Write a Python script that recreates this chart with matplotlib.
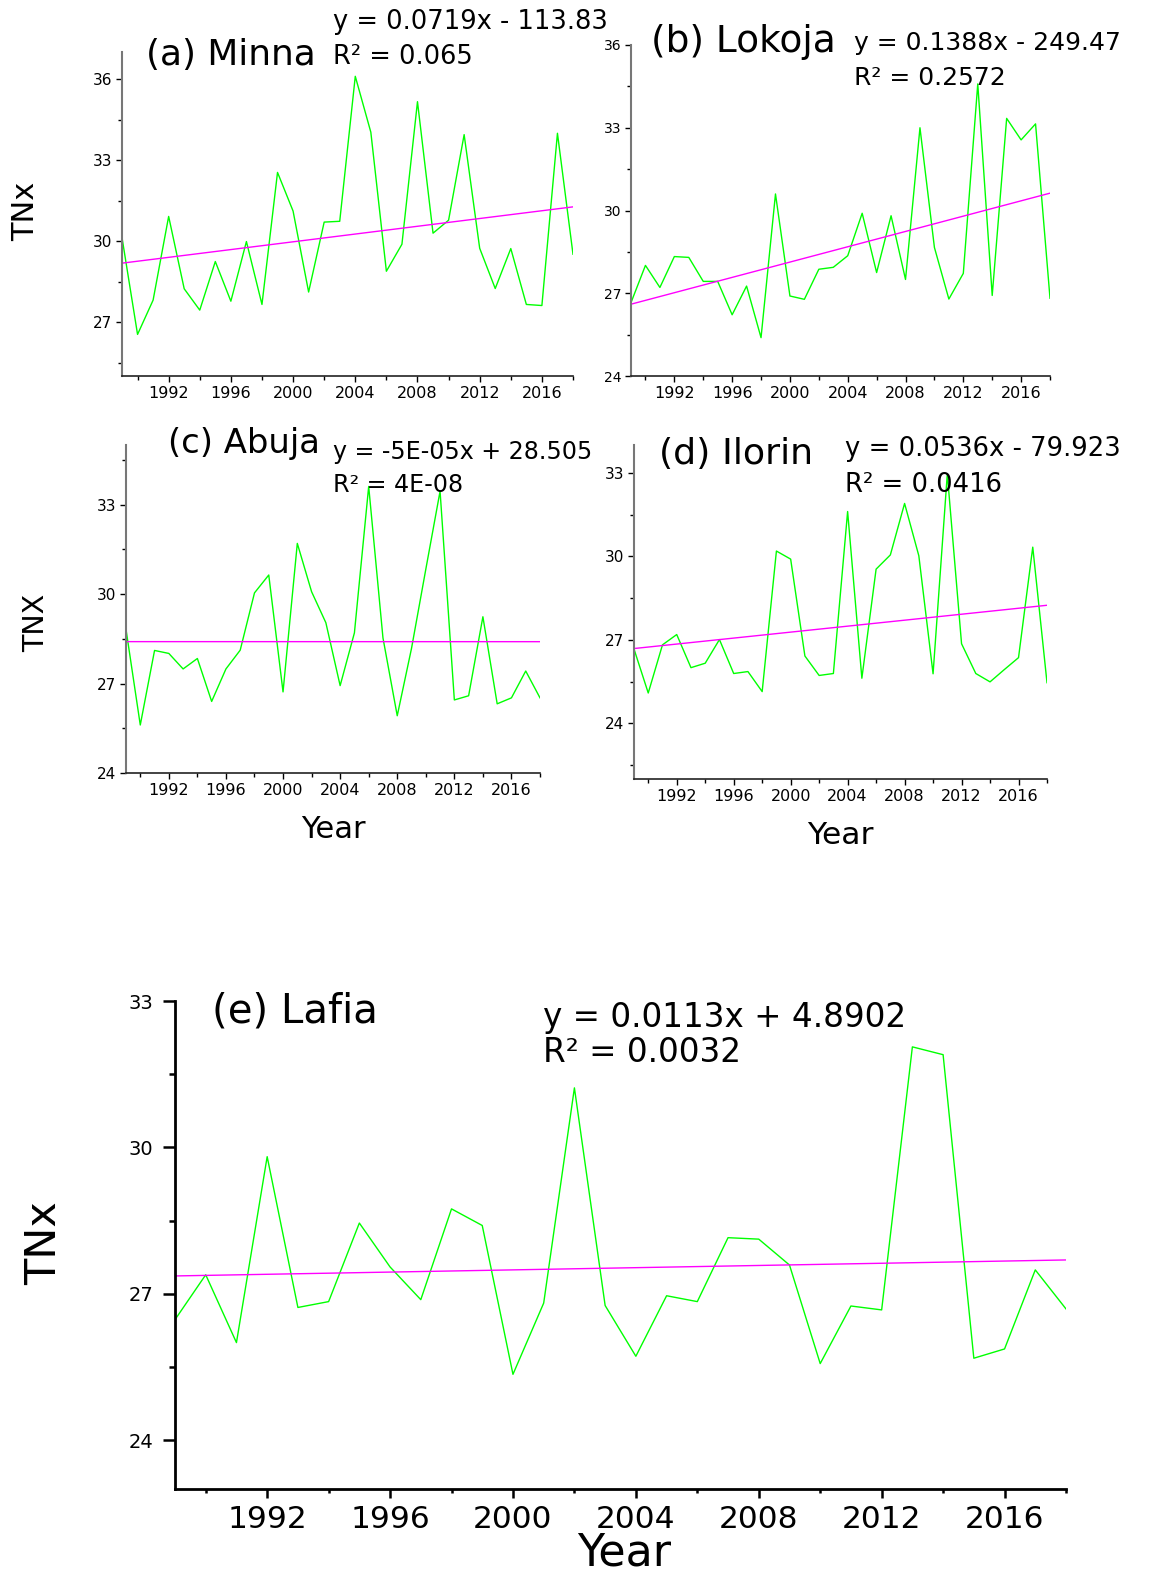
import numpy as np
import matplotlib
matplotlib.use("Agg")
import matplotlib.pyplot as plt
from matplotlib.ticker import MultipleLocator

# Lata obserwacji
years = np.arange(1989, 2019)

# TNx dla stacji
minna = [30.13, 26.54, 27.81, 30.91, 28.23, 27.44, 29.24, 27.77, 29.98, 27.65,
         32.54, 31.11, 28.11, 30.70, 30.73, 36.10, 34.03, 28.88, 29.88, 35.16,
         30.29, 30.77, 33.94, 29.73, 28.24, 29.72, 27.65, 27.61, 33.99, 29.51]
lokoja = [26.66, 28.01, 27.21, 28.33, 28.30, 27.43, 27.43, 26.22, 27.26, 25.39,
          30.60, 26.90, 26.78, 27.87, 27.94, 28.36, 29.90, 27.75, 29.81, 27.50,
          33.00, 28.66, 26.79, 27.72, 34.59, 26.92, 33.34, 32.56, 33.14, 26.82]
abuja = [28.82, 25.61, 28.11, 28.01, 27.49, 27.84, 26.40, 27.49, 28.12, 30.04,
         30.64, 26.72, 31.70, 30.08, 29.04, 26.93, 28.70, 33.61, 28.53, 25.92,
         28.18, 30.83, 33.45, 26.45, 26.59, 29.24, 26.32, 26.52, 27.42, 26.52]
ilorin = [26.67, 25.09, 26.82, 27.19, 26.00, 26.16, 27.01, 25.79, 25.86, 25.14,
          30.19, 29.90, 26.42, 25.72, 25.79, 31.61, 25.62, 29.54, 30.05, 31.90,
          30.02, 25.78, 32.96, 26.86, 25.79, 25.49, 25.93, 26.36, 30.33, 25.46]
lafia = [26.47, 27.39, 26.00, 29.81, 26.72, 26.84, 28.45, 27.55, 26.88, 28.74,
         28.40, 25.35, 26.81, 31.22, 26.76, 25.72, 26.96, 26.84, 28.15, 28.12,
         27.59, 25.57, 26.75, 26.67, 32.06, 31.90, 25.68, 25.87, 27.49, 26.69]

# Linie trendu (z równań na wykresie)
slopes = [0.0719, 0.1388, -5e-05, 0.0536, 0.0113]
intercepts = [-113.83, -249.47, 28.505, -79.923, 4.8902]

titles = ["(a) Minna", "(b) Lokoja", "(c) Abuja", "(d) Ilorin", "(e) Lafia"]
equations = ["y = 0.0719x - 113.83", "y = 0.1388x - 249.47", "y = -5E-05x + 28.505",
             "y = 0.0536x - 79.923", "y = 0.0113x + 4.8902"]
r2_texts = ["R² = 0.065", "R² = 0.2572", "R² = 4E-08", "R² = 0.0416", "R² = 0.0032"]
series = [minna, lokoja, abuja, ilorin, lafia]
ylims = [(25, 37), (24, 36), (24, 35), (22, 34), (23, 33)]

W, H = 1149, 1582
plt.rcParams["font.family"] = ["DejaVu Sans"]
fig = plt.figure(figsize=(W / 100, H / 100), dpi=100)

# Pozycje osi w pikselach: lewo, prawo, góra, dół
boxes = [(122, 573, 52, 376), (631, 1050, 45, 376), (126, 540, 445, 773),
         (634, 1047, 445, 779), (175, 1066, 1001, 1489)]
ytick_sizes = [11, 10, 11, 11, 14]


def px_text(x, y, s, **kw):
    fig.text(x / W, 1 - y / H, s, **kw)


for i, (l, r, t, b) in enumerate(boxes):
    ax = fig.add_axes([l / W, 1 - b / H, (r - l) / W, (b - t) / H])
    ax.plot(years, series[i], color="#00ff00", lw=1.0)
    ax.plot(years, slopes[i] * years + intercepts[i], color="#ff00ff", lw=1.0)
    ax.set_xlim(1989, 2018)
    ax.set_ylim(*ylims[i])
    ax.xaxis.set_major_locator(MultipleLocator(4))
    ax.xaxis.set_minor_locator(MultipleLocator(2))
    ax.yaxis.set_major_locator(MultipleLocator(3))
    ax.yaxis.set_minor_locator(MultipleLocator(1.5))
    ax.spines["top"].set_visible(False)
    ax.spines["right"].set_visible(False)
    if i == 4:
        for s in ["left", "bottom"]:
            ax.spines[s].set_linewidth(2.0)
            ax.spines[s].set_color("black")
        ax.tick_params(which="both", width=1.8, direction="out")
        ax.tick_params(axis="x", which="major", length=6.5, pad=5, labelsize=22.5)
        ax.tick_params(axis="x", which="minor", length=3)
        ax.tick_params(axis="y", which="major", length=8.5, pad=7, labelsize=ytick_sizes[i])
        ax.tick_params(axis="y", which="minor", length=4)
    else:
        ax.spines["left"].set_color("#777777")
        ax.spines["left"].set_linewidth(1.5)
        ax.spines["bottom"].set_color("#222222")
        ax.spines["bottom"].set_linewidth(1.2)
        ax.tick_params(which="major", length=4, width=1, direction="out", pad=3)
        ax.tick_params(which="minor", length=3, width=1, direction="out")
        ax.tick_params(axis="x", labelsize=11.5)
        ax.tick_params(axis="y", labelsize=ytick_sizes[i])

# Tytuły i równania
title_pos = [(146, 55), (651, 42), (168, 444), (659, 454), (212, 1011)]
title_sizes = [25.8, 27, 24.4, 26.2, 29]
eq_pos = [(333, 22), (854, 43), (333, 452), (845, 449), (543, 1017)]
r2_pos = [(333, 57), (854, 78), (333, 485), (845, 485), (543, 1052)]
eq_sizes = [18.5, 18, 17.1, 18.6, 23.5]
for i in range(5):
    px_text(*title_pos[i], titles[i], fontsize=title_sizes[i], ha="left", va="center")
    px_text(*eq_pos[i], equations[i], fontsize=eq_sizes[i], ha="left", va="center")
    px_text(*r2_pos[i], r2_texts[i], fontsize=eq_sizes[i], ha="left", va="center")

# Etykiety osi
px_text(26, 211, "TNx", fontsize=22, rotation=90, ha="center", va="center")
px_text(36, 623, "TNX", fontsize=20.6, rotation=90, ha="center", va="center")
px_text(44, 1243, "TNx", fontsize=31, rotation=90, ha="center", va="center")
px_text(333, 829, "Year", fontsize=22, ha="center", va="center")
px_text(840, 835, "Year", fontsize=22.6, ha="center", va="center")
px_text(624, 1553, "Year", fontsize=32, ha="center", va="center")

fig.savefig("out.png", dpi=100)
